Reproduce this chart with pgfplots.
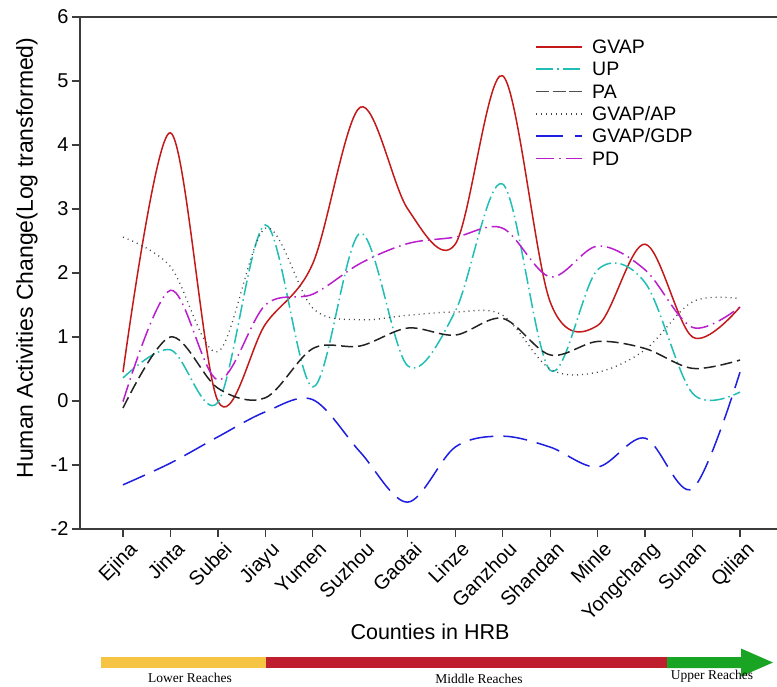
\documentclass[border=0pt]{standalone}
\usepackage{fontspec}
\setmainfont{Liberation Sans}
\newfontfamily\serifF{Liberation Serif}
\usepackage{pgfplots}
\pgfplotsset{compat=1.18}

\definecolor{cGVAP}{RGB}{195,25,25}
\definecolor{cUP}{RGB}{32,190,180}
\definecolor{cPA}{RGB}{35,35,35}
\definecolor{cAP}{RGB}{70,70,70}
\definecolor{cGDP}{RGB}{30,30,225}
\definecolor{cPD}{RGB}{185,30,205}
\definecolor{barY}{RGB}{245,196,66}
\definecolor{barR}{RGB}{190,30,45}
\definecolor{barG}{RGB}{25,165,35}
\definecolor{axgray}{RGB}{60,60,60}

\tikzset{
  sGVAP/.style={color=cGVAP, line width=1.5pt},
  sUP/.style={color=cUP, line width=1.5pt, dash pattern=on 15pt off 4pt on 1.5pt off 4pt},
  sPA/.style={color=cPA, line width=1.5pt, dash pattern=on 12pt off 5pt},
  sAP/.style={color=cAP, line width=1.3pt, dash pattern=on 1pt off 4pt},
  sGDP/.style={color=cGDP, line width=1.5pt, dash pattern=on 24pt off 10pt},
  sPD/.style={color=cPD, line width=1.5pt, dash pattern=on 18pt off 5pt on 1.5pt off 5pt},
}

\begin{document}
\begin{tikzpicture}
\useasboundingbox (0pt,0pt) rectangle (777pt,686pt);
\begin{axis}[
  at={(80pt,157pt)}, anchor=south west,
  scale only axis, width=697pt, height=512pt,
  xmin=-0.906, xmax=13.78, ymin=-2, ymax=6,
  axis x line*=box, axis y line*=left,
  axis line style={axgray, line width=1.4pt},
  xtick={0,...,13},
  xticklabels={Ejina,Jinta,Subei,Jiayu,Yumen,Suzhou,Gaotai,Linze,Ganzhou,Shandan,Minle,Yongchang,Sunan,Qilian},
  ytick={-2,-1,...,6},
  xtick pos=bottom, ytick pos=left,
  tick align=outside, major tick length=8pt,
  tick style={axgray, line width=1.2pt},
  /pgf/number format/assume math mode=true,
  ticklabel style={font=\fontsize{20}{24}\selectfont},
  xticklabel style={rotate=45, anchor=north east, inner sep=2pt, xshift=3pt, yshift=-4pt},
  every axis plot/.append style={smooth, tension=0.55},
]
\addplot[sGVAP] coordinates {(0,0.45) (1,4.19) (2,0.0) (3,1.2) (4,2.15) (5,4.59) (6,3.0) (7,2.45) (8,5.08) (9,1.55) (10,1.18) (11,2.45) (12,1.0) (13,1.47)};
\addplot[sUP] coordinates {(0,0.36) (1,0.8) (2,-0.02) (3,2.75) (4,0.22) (5,2.62) (6,0.55) (7,1.4) (8,3.39) (9,0.48) (10,2.05) (11,1.85) (12,0.12) (13,0.14)};
\addplot[sPA] coordinates {(0,-0.11) (1,1.0) (2,0.2) (3,0.05) (4,0.82) (5,0.86) (6,1.14) (7,1.03) (8,1.29) (9,0.72) (10,0.93) (11,0.82) (12,0.51) (13,0.64)};
\addplot[sAP] coordinates {(0,2.56) (1,2.1) (2,0.77) (3,2.7) (4,1.45) (5,1.27) (6,1.34) (7,1.39) (8,1.34) (9,0.5) (10,0.45) (11,0.8) (12,1.55) (13,1.6)};
\addplot[sGDP] coordinates {(0,-1.31) (1,-0.97) (2,-0.56) (3,-0.17) (4,0.02) (5,-0.8) (6,-1.58) (7,-0.72) (8,-0.55) (9,-0.72) (10,-1.03) (11,-0.58) (12,-1.37) (13,0.45)};
\addplot[sPD] coordinates {(0,-0.01) (1,1.73) (2,0.33) (3,1.5) (4,1.67) (5,2.15) (6,2.46) (7,2.56) (8,2.7) (9,1.94) (10,2.42) (11,2.05) (12,1.15) (13,1.47)};
\end{axis}
% legend
\draw[sGVAP] (536pt,639pt) -- (582pt,639pt);
\draw[sUP, dash pattern=on 17pt off 4pt on 1.5pt off 4pt] (536pt,617pt) -- (582pt,617pt);
\draw[sPA, color=cPA!80!white, dash pattern=on 13pt off 3.5pt] (536pt,594.5pt) -- (582pt,594.5pt);
\draw[sAP, line width=1.2pt] (536pt,572pt) -- (582pt,572pt);
\draw[sGDP, dash pattern=on 27pt off 12pt] (536pt,550pt) -- (582pt,550pt);
\draw[sPD] (536pt,527.5pt) -- (582pt,527.5pt);
\begin{scope}[every node/.style={anchor=base west, inner sep=0pt, font=\fontsize{19.5}{22}\selectfont}]
\node at (592pt,632pt) {GVAP};
\node at (592pt,610pt) {UP};
\node at (592pt,587.5pt) {PA};
\node at (592pt,565pt) {GVAP/AP};
\node at (592pt,543pt) {GVAP/GDP};
\node at (592pt,520.5pt) {PD};
\end{scope}
\node[rotate=90, font=\fontsize{23}{26}\selectfont] at (27pt,428pt) {Human Activities Change(Log transformed)};
\node[font=\fontsize{21.5}{24}\selectfont, anchor=base] at (430pt,46pt) {Counties in HRB};
\fill[barY] (101pt,18pt) rectangle (266pt,29pt);
\fill[barR] (266pt,18pt) rectangle (667pt,29pt);
\fill[barG] (667pt,18pt) -- (741pt,18pt) -- (741pt,9.5pt) -- (773pt,23.5pt) -- (741pt,37.5pt) -- (741pt,29pt) -- (667pt,29pt) -- cycle;
\node[font=\serifF\fontsize{13.5}{15}\selectfont, anchor=base] at (190pt,4pt) {Lower Reaches};
\node[font=\serifF\fontsize{13.5}{15}\selectfont, anchor=base] at (479pt,2pt) {Middle Reaches};
\node[font=\serifF\fontsize{13.5}{15}\selectfont, anchor=base] at (712pt,6pt) {Upper Reaches};
\end{tikzpicture}
\end{document}
